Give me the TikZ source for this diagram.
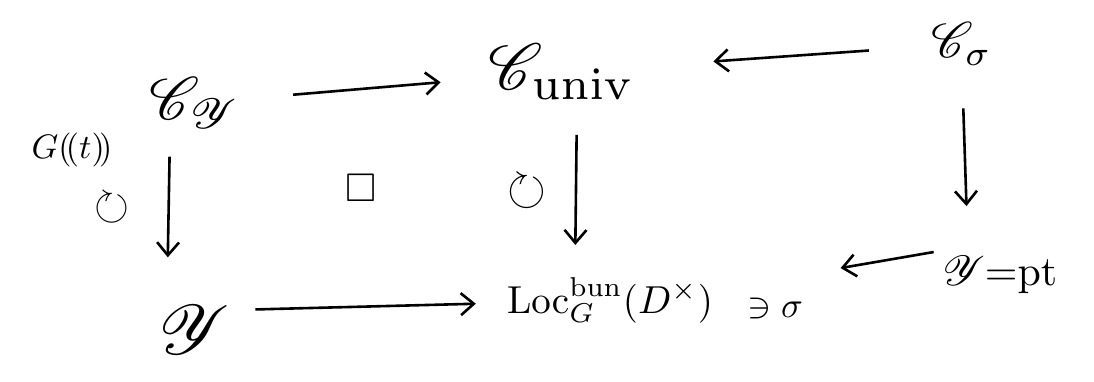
\documentclass[tikz,border=0pt]{standalone}
\usepackage{amsmath,amssymb}
\usepackage{mathrsfs}
\usepackage{graphicx}
\usetikzlibrary{arrows.meta}
\begin{document}
\begin{tikzpicture}[x=1pt,y=-1pt,
  obj/.style={inner sep=3pt},
  arr/.style={-{Straight Barb[length=13pt,width=22pt,line width=2.6pt]}, line width=2.6pt},
  lbl/.style={inner sep=1pt}]
\useasboundingbox (0,0) rectangle (1094,381);
\node[obj] (CY) at (195,103) {\scalebox{6}{$\mathscr{C}_{\mathscr{Y}}$}};
\node[obj] (Cu) at (562,72) {\scalebox{6.5}{$\mathscr{C}_{\mathrm{univ}}$}};
\node[obj] (Cs) at (962,44) {\scalebox{5}{$\mathscr{C}_{\sigma}$}};
\node[obj] (Y) at (195,330) {\scalebox{7}{$\mathscr{Y}$}};
\node[obj] (L) at (610,300) {\scalebox{3.9}{$\mathrm{Loc}^{\mathrm{bun}}_{G}(D^{\times})$}};
\node[obj] (ni) at (775,308) {\scalebox{3.6}{$\ni\sigma$}};
\node[obj] (Yp) at (1000,275) {\scalebox{4.2}{$\mathscr{Y}{=}\mathrm{pt}$}};
\node[lbl] (G) at (72,150) {\scalebox{3.4}{$G(\!(t)\!)$}};
\node[lbl] (r1) at (112,208) {\scalebox{4.5}{$\circlearrowright$}};
\node[lbl] (sq) at (361,188) {\scalebox{4}{$\square$}};
\node[lbl] (r2) at (527,192) {\scalebox{5}{$\circlearrowright$}};
\draw[arr, shorten <=50pt, shorten >=45pt] (CY) -- (Cu);
\draw[arr, shorten <=60pt, shorten >=75pt] (Cs) -- (Cu);
\draw[arr, shorten <=25pt, shorten >=45pt] ([xshift=-25pt]CY.south) -- ([xshift=-28pt]Y.north);
\draw[arr, shorten <=32pt, shorten >=29pt] ([xshift=15pt]Cu.south) -- ([xshift=-35pt]L.north);
\draw[arr, shorten <=40pt, shorten >=47pt] ([xshift=0pt]Cs.south) -- ([xshift=-32pt]Yp.north);
\draw[arr, shorten <=22pt, shorten >=28pt] ([yshift=20pt]Y.east) -- ([yshift=-3pt]L.west);
\draw[arr, shorten <=6pt, shorten >=35pt] ([yshift=24pt]Yp.west) -- ([yshift=34pt]ni.east);
\end{tikzpicture}
\end{document}
